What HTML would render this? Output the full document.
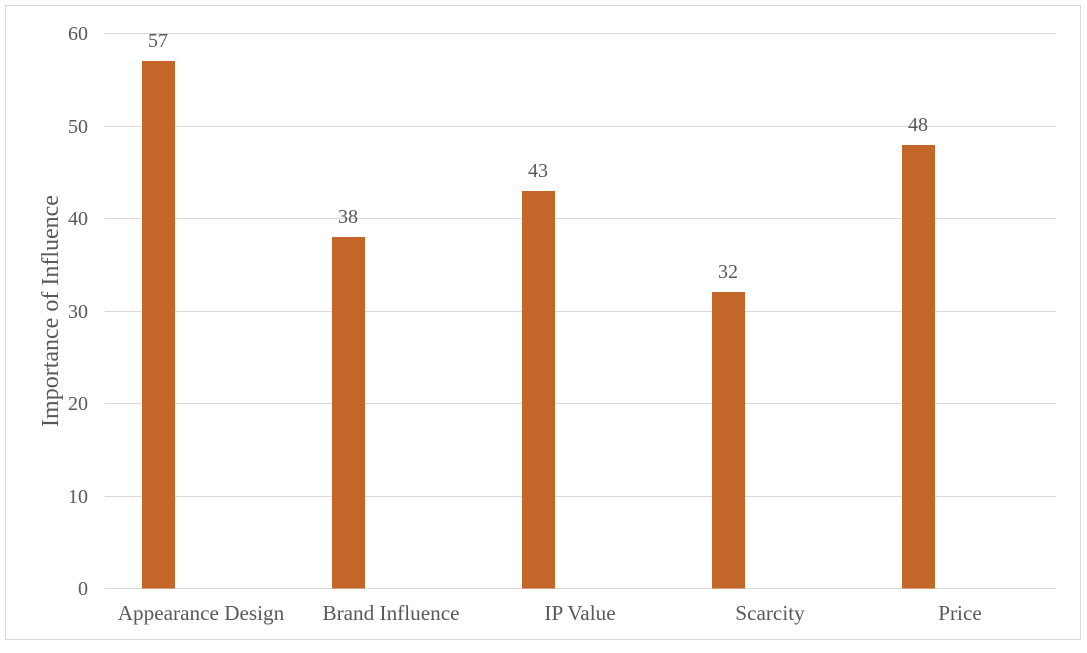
<!DOCTYPE html>
<html><head><meta charset="utf-8"><style>
body{margin:0;background:#fff;}
text{font-family:"Liberation Serif",serif;fill:#595959;}
</style></head><body>
<svg width="1087" height="648" xmlns="http://www.w3.org/2000/svg">
<rect x="5.5" y="5.5" width="1075" height="634" fill="#fff" stroke="#d9d9d9"/>
<g stroke="#d9d9d9" stroke-width="1">
<line x1="105" x2="1056" y1="33.5" y2="33.5"/>
<line x1="105" x2="1056" y1="126.5" y2="126.5"/>
<line x1="105" x2="1056" y1="218.5" y2="218.5"/>
<line x1="105" x2="1056" y1="311.5" y2="311.5"/>
<line x1="105" x2="1056" y1="403.5" y2="403.5"/>
<line x1="105" x2="1056" y1="496.5" y2="496.5"/>
<line x1="105" x2="1056" y1="588.5" y2="588.5"/>
</g>
<g font-size="20" text-anchor="end">
<text x="88" y="40">60</text><text x="88" y="133">50</text><text x="88" y="225">40</text>
<text x="88" y="318">30</text><text x="88" y="410">20</text><text x="88" y="503">10</text><text x="88" y="595">0</text>
</g>
<text transform="translate(58,311) rotate(-90)" font-size="24" text-anchor="middle">Importance of Influence</text>
<g fill="#c4662a">
<rect x="142" y="61" width="33" height="527.5"/>
<rect x="332" y="237" width="33" height="351.5"/>
<rect x="522" y="191" width="33" height="397.5"/>
<rect x="712" y="292" width="33" height="296.5"/>
<rect x="902" y="145" width="33" height="443.5"/>
</g>
<g font-size="20" text-anchor="middle" style="fill:#404040">
<text x="158" y="47">57</text><text x="348" y="223">38</text><text x="538" y="177">43</text>
<text x="728" y="278">32</text><text x="918" y="131">48</text>
</g>
<g font-size="21.2" text-anchor="middle">
<text x="201" y="620">Appearance Design</text><text x="391" y="620">Brand Influence</text>
<text x="580" y="620">IP Value</text><text x="770" y="620">Scarcity</text><text x="960" y="620">Price</text>
</g>
</svg>
</body></html>
